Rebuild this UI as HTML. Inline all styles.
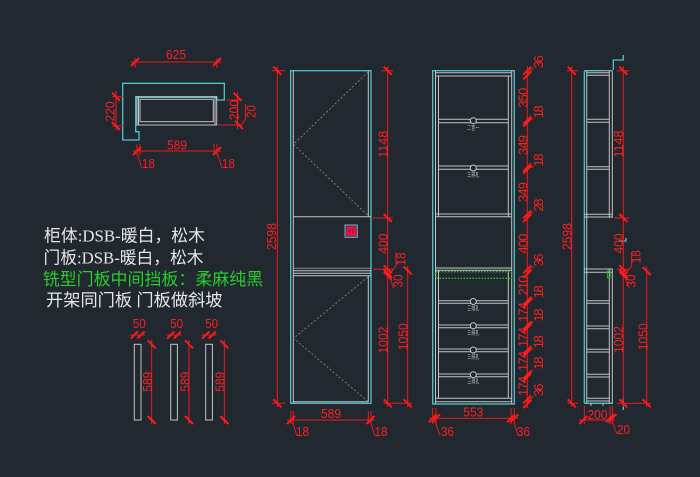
<!DOCTYPE html>
<html><head><meta charset="utf-8">
<style>
html,body{margin:0;padding:0;background:#212830;}
svg{display:block;}
.r{stroke:#ee1a1a;stroke-width:1;fill:none}
.t{stroke:#ff1a1a;stroke-width:2;fill:none}
.c{stroke:#4cc8cc;stroke-width:1.3;fill:none}
.g{stroke:#c4c4c4;stroke-width:1;fill:none}
.d{fill:#ff2020;font-family:"Liberation Sans",sans-serif;font-size:13px}
.s{fill:#c8c8c8;font-family:"Liberation Sans","Noto Sans CJK SC",sans-serif;font-size:6px}
.w{font-family:"Liberation Serif","Noto Sans CJK SC",sans-serif;font-size:17px}
</style></head><body>
<svg width="700" height="477" viewBox="0 0 700 477" xmlns="http://www.w3.org/2000/svg">
<rect width="700" height="477" fill="#212830"/>

<!-- ============ PLAN VIEW ============ -->
<polygon class="c" points="122.7,83.3 224.3,83.3 224.3,100 216.7,100 216.7,96.7 135.7,96.7 135.7,131.7 139,131.7 139,140 122.7,140"/>
<rect class="g" x="137" y="97.3" width="79.7" height="27.7"/>
<rect class="g" x="140" y="99.3" width="73.3" height="22.4"/>
<path class="g" d="M138.5 97.3V125M215 97.3V125"/>
<!-- 625 -->
<path class="r" d="M131 62H221M135 58V68M217 58V68"/>
<path class="t" d="M131 66L139 58M213 66L221 58"/>
<text class="d" x="176" y="59" text-anchor="middle" textLength="20" lengthAdjust="spacingAndGlyphs">625</text>
<!-- 220 -->
<path class="r" d="M116 91V130M112 96.7H123M112 126H123"/>
<path class="t" d="M112 92.7L120 100.7M112 122L120 130"/>
<text class="d" transform="rotate(-90 110 111.5)" x="110" y="111.5" dy="4.6" text-anchor="middle" textLength="20" lengthAdjust="spacingAndGlyphs">220</text>
<!-- 200 / 20 -->
<path class="r" d="M237.5 92V129M226 100H242M218 125H242M240 127L245.5 119V104"/>
<path class="t" d="M233.5 92.7L241.5 100.7M235 121L243 129"/>
<text class="d" transform="rotate(-90 234 110)" x="234" y="110" dy="4.6" text-anchor="middle" textLength="20" lengthAdjust="spacingAndGlyphs">200</text>
<text class="d" transform="rotate(-90 251 111.5)" x="251" y="111.5" dy="4.6" text-anchor="middle" textLength="13" lengthAdjust="spacingAndGlyphs">20</text>
<!-- 589 -->
<path class="r" d="M133 151H221M137 144V155M140 144V155M214 144V155M217 144V155M137 153L141.7 168M217 153L222 168"/>
<path class="t" d="M133 155L141 147M213 155L221 147"/>
<text class="d" x="177" y="149.5" text-anchor="middle" textLength="20" lengthAdjust="spacingAndGlyphs">589</text>
<text class="d" x="148.5" y="168" text-anchor="middle" textLength="13" lengthAdjust="spacingAndGlyphs">18</text>
<text class="d" x="228.5" y="168" text-anchor="middle" textLength="13" lengthAdjust="spacingAndGlyphs">18</text>

<!-- ============ TEXT BLOCK ============ -->
<text class="w" x="44" y="241.5" fill="#e6e6e6" textLength="161" lengthAdjust="spacingAndGlyphs">柜体:DSB-暖白，松木</text>
<text class="w" x="43.5" y="263.3" fill="#e6e6e6" textLength="160" lengthAdjust="spacingAndGlyphs">门板:DSB-暖白，松木</text>
<text class="w" x="42.7" y="285" fill="#2ccc2c" textLength="220.5" lengthAdjust="spacingAndGlyphs">铣型门板中间挡板：柔麻纯黑</text>
<text class="w" x="46" y="306" fill="#e6e6e6" textLength="176.5" lengthAdjust="spacingAndGlyphs">开架同门板 门板做斜坡</text>

<!-- ============ DOOR PANELS ============ -->
<rect class="g" x="134.3" y="344.3" width="6.7" height="75.7"/>
<rect class="g" x="170.7" y="344.3" width="6.7" height="75.7"/>
<rect class="g" x="205.7" y="344.3" width="6.7" height="75.7"/>
<path class="r" d="M130 335H145M166.5 335H181.5M201.5 335H216.5M151.7 340V424M189 340V424M224.3 340V424"/>
<path class="t" d="M130.8 338.5L137.8 331.5M137.5 338.5L144.5 331.5M167.2 338.5L174.2 331.5M173.8 338.5L180.8 331.5M202.2 338.5L209.2 331.5M208.8 338.5L215.8 331.5
M147.7 340.3L155.7 348.3M147.7 416L155.7 424M185 340.3L193 348.3M185 416L193 424M220.3 340.3L228.3 348.3M220.3 416L228.3 424"/>
<text class="d" x="139.3" y="328" text-anchor="middle" textLength="13" lengthAdjust="spacingAndGlyphs">50</text>
<text class="d" x="176.7" y="328" text-anchor="middle" textLength="13" lengthAdjust="spacingAndGlyphs">50</text>
<text class="d" x="211.7" y="328" text-anchor="middle" textLength="13" lengthAdjust="spacingAndGlyphs">50</text>
<text class="d" transform="rotate(-90 147.5 381.7)" x="147.5" y="381.7" dy="4.6" text-anchor="middle" textLength="20" lengthAdjust="spacingAndGlyphs">589</text>
<text class="d" transform="rotate(-90 184.8 381.7)" x="184.8" y="381.7" dy="4.6" text-anchor="middle" textLength="20" lengthAdjust="spacingAndGlyphs">589</text>
<text class="d" transform="rotate(-90 220.1 381.7)" x="220.1" y="381.7" dy="4.6" text-anchor="middle" textLength="20" lengthAdjust="spacingAndGlyphs">589</text>

<!-- ============ ELEVATION 1 (doors) ============ -->
<rect class="c" x="290.7" y="70.7" width="80.3" height="332.6"/>
<path class="g" d="M293.3 70.7V403.3M368.3 71V216.7M368.3 276V402M293.3 216.7H371M293.3 270.7H371M293.3 273.3H371M293.3 275.7H371M293.3 401.8H368.3"/>
<path d="M293.3 268.3H371" stroke="#8a8a8a" stroke-width="1"/>
<polyline points="368,72 293.5,144.3 368,215.5" fill="none" stroke="#7c7c7c" stroke-width="1" stroke-dasharray="2,2"/>
<polyline points="368,277 293.5,338.3 368,401.5" fill="none" stroke="#7c7c7c" stroke-width="1" stroke-dasharray="2,2"/>
<rect x="345" y="225" width="12.3" height="12.3" fill="#a8125c" stroke="#4cc8cc" stroke-width="1"/>
<rect x="347.6" y="227.6" width="7.1" height="7.1" fill="#c0104a" stroke="#ff2020" stroke-width="1"/>
<path d="M351.2 227.6V234.7" stroke="#ff2020" stroke-width="1"/>
<!-- dims -->
<path class="r" d="M277.3 66V407M272 70.7H285M272 403.3H285"/>
<path class="t" d="M273.3 66.7L281.3 74.7M273.3 399.3L281.3 407.3"/>
<text class="d" transform="rotate(-90 271.5 236.5)" x="271.5" y="236.5" dy="4.6" text-anchor="middle" textLength="27" lengthAdjust="spacingAndGlyphs">2598</text>
<path class="r" d="M387.7 66V407M381 70.7H393M373 218H393M373 269.3H393M383 403.3H412M407.7 266V407M388.5 275.5L396 266V252M388.5 273L393.5 288"/>
<path class="t" d="M383.7 66.7L391.7 74.7M383.7 214L391.7 222M383.7 265.3L391.7 273.3M383.7 269.2L391.7 277.2M383.7 271.5L391.7 279.5M383.7 399.3L391.7 407.3M403.7 266.5L411.7 274.5M403.7 399.3L411.7 407.3"/>
<text class="d" transform="rotate(-90 382.7 144.3)" x="382.7" y="144.3" dy="4.6" text-anchor="middle" textLength="27" lengthAdjust="spacingAndGlyphs">1148</text>
<text class="d" transform="rotate(-90 382.7 243.6)" x="382.7" y="243.6" dy="4.6" text-anchor="middle" textLength="20" lengthAdjust="spacingAndGlyphs">400</text>
<text class="d" transform="rotate(-90 382.7 340)" x="382.7" y="340" dy="4.6" text-anchor="middle" textLength="27" lengthAdjust="spacingAndGlyphs">1002</text>
<text class="d" transform="rotate(-90 401 259)" x="401" y="259" dy="4.6" text-anchor="middle" textLength="13" lengthAdjust="spacingAndGlyphs">18</text>
<text class="d" transform="rotate(-90 398 281)" x="398" y="281" dy="4.6" text-anchor="middle" textLength="13" lengthAdjust="spacingAndGlyphs">30</text>
<text class="d" transform="rotate(-90 402.7 336.7)" x="402.7" y="336.7" dy="4.6" text-anchor="middle" textLength="27" lengthAdjust="spacingAndGlyphs">1050</text>
<path class="r" d="M287 420H375M291 411V424M293.3 411V424M368.3 411V424M371 411V424M292.5 422L297 436M370.5 422L375 436"/>
<path class="t" d="M287 424L295 416M366.5 424L374.5 416"/>
<text class="d" x="331" y="418" text-anchor="middle" textLength="20" lengthAdjust="spacingAndGlyphs">589</text>
<text class="d" x="302.5" y="436" text-anchor="middle" textLength="13" lengthAdjust="spacingAndGlyphs">18</text>
<text class="d" x="381" y="436" text-anchor="middle" textLength="13" lengthAdjust="spacingAndGlyphs">18</text>

<!-- ============ ELEVATION 2 (interior) ============ -->
<rect class="c" x="432.7" y="70.7" width="81.6" height="333.3"/>
<path class="g" d="M435.5 70.7V404M511.7 70.7V404M438.5 76V216.7M508.3 76V216.7M438.5 270.3V398.3M508.3 270.3V398.3
M435.5 72.7H511.7M435.5 76H511.7
M438.5 119.3H508.3M438.5 122.7H508.3M438.5 166H508.3M438.5 169.3H508.3
M435.5 214H511.7M435.5 216.7H511.7M435.5 268H511.7M435.5 270.3H511.7
M438.5 300.7H508.3M438.5 303.3H508.3M438.5 325H508.3M438.5 327.7H508.3M438.5 349H508.3M438.5 351.7H508.3M438.5 374H508.3M438.5 376.7H508.3
M435.5 398.3H511.7M435.5 401.7H511.7"/>
<rect x="436" y="271.7" width="75.7" height="6.6" fill="none" stroke="#22c022" stroke-width="1.3" stroke-dasharray="1.5,1.5"/>
<g fill="#212830" stroke="#c8c8c8" stroke-width="1">
<circle cx="473.3" cy="120.7" r="3"/><circle cx="473.3" cy="168" r="3"/>
<circle cx="473.3" cy="301.5" r="3"/><circle cx="473.3" cy="325.8" r="3"/>
<circle cx="473.3" cy="350" r="3"/><circle cx="473.3" cy="374.7" r="3"/>
</g>
<text class="s" x="473.3" y="130" text-anchor="middle" textLength="12" lengthAdjust="spacingAndGlyphs">二音一</text>
<text class="s" x="473.3" y="177" text-anchor="middle" textLength="12" lengthAdjust="spacingAndGlyphs">三排孔</text>
<text class="s" x="473.3" y="310.5" text-anchor="middle" textLength="12" lengthAdjust="spacingAndGlyphs">三排孔</text>
<text class="s" x="473.3" y="334.8" text-anchor="middle" textLength="12" lengthAdjust="spacingAndGlyphs">三排孔</text>
<text class="s" x="473.3" y="359" text-anchor="middle" textLength="12" lengthAdjust="spacingAndGlyphs">三排孔</text>
<text class="s" x="473.3" y="383.7" text-anchor="middle" textLength="12" lengthAdjust="spacingAndGlyphs">三排孔</text>
<!-- right dim chain -->
<path class="r" d="M527.3 66V408
M527.3 73L533.5 68.2M527.3 121.3L533.5 118.2M527.3 168.5L533.5 166.5M527.3 216L533.5 211.5M527.3 271.6L533.5 266.5
M527.3 302L533.5 298.2M527.3 326.6L533.5 321.5M527.3 351.2L533.5 348.2M527.3 376L533.5 369.5M527.3 401.7L533.5 396.5"/>
<path class="t" d="M523.3 74.7L531.3 66.7M523.3 79.3L531.3 71.3M523.3 124.2L531.3 116.2M523.3 126.5L531.3 118.5M523.3 171.3L531.3 163.3M523.3 173.6L531.3 165.6
M523.3 218.4L531.3 210.4M523.3 222L531.3 214M523.3 273.3L531.3 265.3M523.3 277.9L531.3 269.9M523.3 304.9L531.3 296.9M523.3 307.2L531.3 299.2
M523.3 329.5L531.3 321.5M523.3 331.8L531.3 323.8M523.3 354.1L531.3 346.1M523.3 356.4L531.3 348.4M523.3 378.8L531.3 370.8M523.3 381.1L531.3 373.1
M523.3 403.4L531.3 395.4M523.3 408L531.3 400"/>
<g class="d" text-anchor="middle" lengthAdjust="spacingAndGlyphs">
<text transform="rotate(-90 523 97.7)" x="523" y="97.7" dy="4.6" textLength="20">350</text>
<text transform="rotate(-90 523 145)" x="523" y="145" dy="4.6" textLength="20">349</text>
<text transform="rotate(-90 523 192)" x="523" y="192" dy="4.6" textLength="20">349</text>
<text transform="rotate(-90 523 243.6)" x="523" y="243.6" dy="4.6" textLength="20">400</text>
<text transform="rotate(-90 523 285.5)" x="523" y="285.5" dy="4.6" textLength="20">210</text>
<text transform="rotate(-90 523 312)" x="523" y="312" dy="4.6" textLength="20">174</text>
<text transform="rotate(-90 523 337)" x="523" y="337" dy="4.6" textLength="20">174</text>
<text transform="rotate(-90 523 361)" x="523" y="361" dy="4.6" textLength="20">174</text>
<text transform="rotate(-90 523 386)" x="523" y="386" dy="4.6" textLength="20">174</text>
<text transform="rotate(-90 538.3 61.7)" x="538.3" y="61.7" dy="4.6" textLength="13">36</text>
<text transform="rotate(-90 538.3 111.7)" x="538.3" y="111.7" dy="4.6" textLength="13">18</text>
<text transform="rotate(-90 538.3 160)" x="538.3" y="160" dy="4.6" textLength="13">18</text>
<text transform="rotate(-90 538.3 205)" x="538.3" y="205" dy="4.6" textLength="13">28</text>
<text transform="rotate(-90 538.3 260)" x="538.3" y="260" dy="4.6" textLength="13">36</text>
<text transform="rotate(-90 538.3 291.7)" x="538.3" y="291.7" dy="4.6" textLength="13">18</text>
<text transform="rotate(-90 538.3 315)" x="538.3" y="315" dy="4.6" textLength="13">18</text>
<text transform="rotate(-90 538.3 341.7)" x="538.3" y="341.7" dy="4.6" textLength="13">18</text>
<text transform="rotate(-90 538.3 363)" x="538.3" y="363" dy="4.6" textLength="13">18</text>
<text transform="rotate(-90 538.3 390)" x="538.3" y="390" dy="4.6" textLength="13">36</text>
</g>
<!-- bottom 553 -->
<path class="r" d="M429 418.3H518M432.7 408V424M436 408V424M511 408V424M514.3 408V424M435 421.7L440 435.5M514 421.7L518 435.5"/>
<path class="t" d="M428.7 422.3L436.7 414.3M432 422.3L440 414.3M507 422.3L515 414.3M510.3 422.3L518.3 414.3"/>
<text class="d" x="473.3" y="416.5" text-anchor="middle" textLength="20" lengthAdjust="spacingAndGlyphs">553</text>
<text class="d" x="447.5" y="436" text-anchor="middle" textLength="13" lengthAdjust="spacingAndGlyphs">36</text>
<text class="d" x="523.5" y="436" text-anchor="middle" textLength="13" lengthAdjust="spacingAndGlyphs">36</text>

<!-- ============ SIDE VIEW ============ -->
<path class="c" d="M584.3 70.7V403.3M584.3 70.7H603.3M584.3 403.3H613M613.3 70V60H623.3V55M619 241H626V238M623.3 398V410"/>
<path class="g" d="M586.7 70.7V403.3M609.3 70.7V217.7M612.3 70.7V217.7M609.3 269V403.3M612.3 269V403.3M603.3 70.7H612.3
M586.7 72.7H609.3M586.7 75.3H609.3M586.7 119.3H609.3M586.7 122.3H609.3M586.7 166.7H609.3M586.7 169.3H609.3
M584.3 214.3H612.3M584.3 217H612.3M584.3 269H612.7M584.3 272.3H612.7
M586.7 300.7H609.3M586.7 303.3H609.3M586.7 326H609.3M586.7 328.7H609.3M586.7 349.3H609.3M586.7 352H609.3M586.7 374.3H609.3M586.7 377H609.3M586.7 398.3H609.3M586.7 401H609.3
M591 403.3V406M603 403.3V406"/>
<rect x="607.3" y="271" width="2.7" height="6.7" fill="none" stroke="#22c022" stroke-width="1"/>
<!-- dims -->
<path class="r" d="M571.7 66V407M567 70.7H578M567 403.3H578"/>
<path class="t" d="M567.7 66.7L575.7 74.7M567.7 399.3L575.7 407.3"/>
<text class="d" transform="rotate(-90 567 236.5)" x="567" y="236.5" dy="4.6" text-anchor="middle" textLength="27" lengthAdjust="spacingAndGlyphs">2598</text>
<path class="r" d="M623.3 66V407M617 70.7H629M614 218H629M617 269.3H629M617 403.3H651M646.7 266V407M624.1 275.5L631.6 266V252M624.1 273L629.1 288"/>
<path class="t" d="M619.3 66.7L627.3 74.7M619.3 214L627.3 222M619.3 265.3L627.3 273.3M619.3 269.2L627.3 277.2M619.3 271.5L627.3 279.5M619.3 399.3L627.3 407.3M642.7 267L650.7 275M642.7 399.3L650.7 407.3"/>
<text class="d" transform="rotate(-90 618.3 144)" x="618.3" y="144" dy="4.6" text-anchor="middle" textLength="27" lengthAdjust="spacingAndGlyphs">1148</text>
<text class="d" transform="rotate(-90 618.3 243.5)" x="618.3" y="243.5" dy="4.6" text-anchor="middle" textLength="20" lengthAdjust="spacingAndGlyphs">400</text>
<text class="d" transform="rotate(-90 618.3 339.5)" x="618.3" y="339.5" dy="4.6" text-anchor="middle" textLength="27" lengthAdjust="spacingAndGlyphs">1002</text>
<text class="d" transform="rotate(-90 636 256.7)" x="636" y="256.7" dy="4.6" text-anchor="middle" textLength="13" lengthAdjust="spacingAndGlyphs">18</text>
<text class="d" transform="rotate(-90 630.7 281)" x="630.7" y="281" dy="4.6" text-anchor="middle" textLength="13" lengthAdjust="spacingAndGlyphs">30</text>
<text class="d" transform="rotate(-90 642.7 336.7)" x="642.7" y="336.7" dy="4.6" text-anchor="middle" textLength="27" lengthAdjust="spacingAndGlyphs">1050</text>
<path class="r" d="M579 420H615M584.3 406V424M610 406V424M612.5 406V424M612 421L617 434"/>
<path class="t" d="M579.3 424L587.3 416M606 422L614 414M608.5 422L616.5 414"/>
<text class="d" x="597.5" y="419" text-anchor="middle" textLength="20" lengthAdjust="spacingAndGlyphs">200</text>
<text class="d" x="623.5" y="434" text-anchor="middle" textLength="13" lengthAdjust="spacingAndGlyphs">20</text>
</svg>
</body></html>
